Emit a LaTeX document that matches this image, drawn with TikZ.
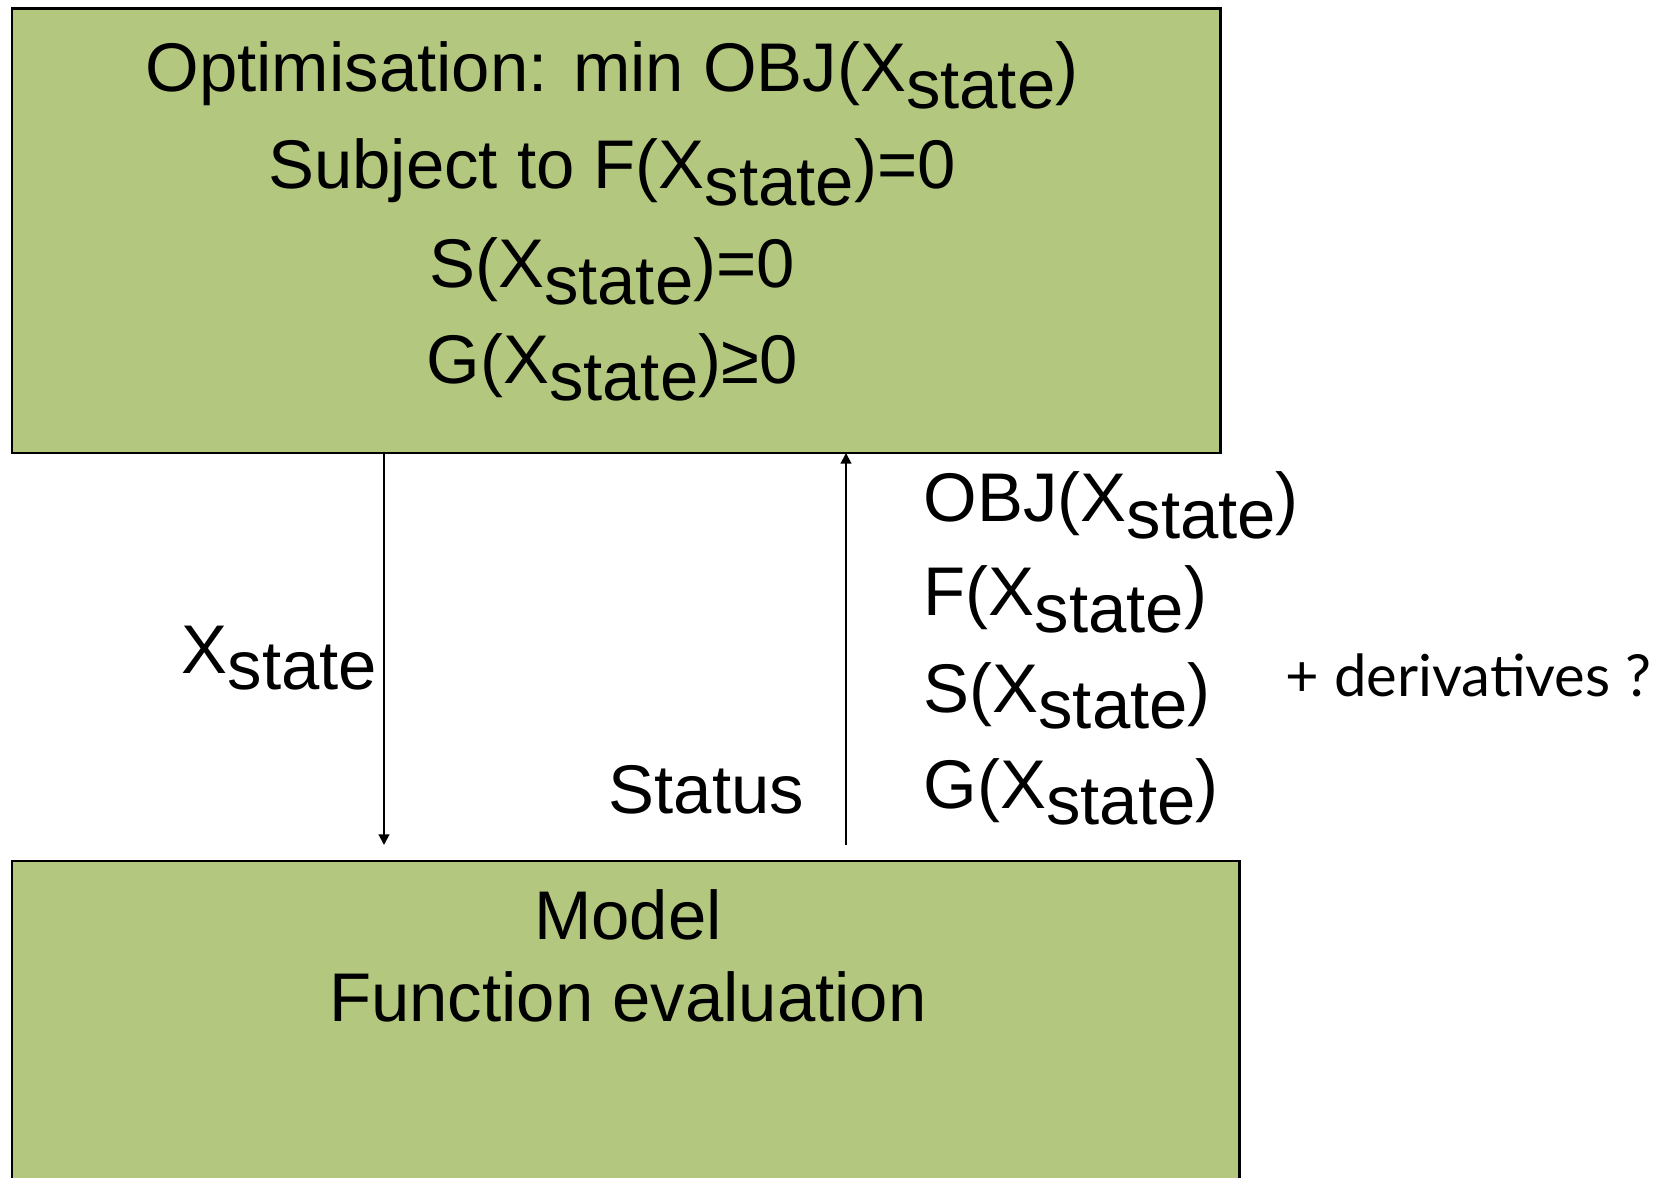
\documentclass[tikz,border=0pt]{standalone}
\usepackage{fontspec}
\setmainfont{Liberation Sans}
\newfontfamily\gillfont{Lato}
\usetikzlibrary{arrows.meta}

\definecolor{boxgreen}{RGB}{179,200,126}
\newcommand{\Xst}{X\raisebox{-4.6pt}{state}}

\begin{document}
\begin{tikzpicture}[
  box/.style={draw, line width=0.85pt, fill=boxgreen, inner sep=0pt, outer sep=0pt},
  txt/.style={font=\fontsize{19.6}{23}\selectfont, inner sep=0pt, anchor=base},
  flow/.style={line width=0.57pt, -{Triangle[length=3pt,width=3pt]}}
]
\useasboundingbox (0,0) rectangle (16.71,11.77);

% Boxes
\node[box, minimum width=12.08cm, minimum height=4.445cm] (opt) at (6.16,9.4625) {};
\node[box, minimum width=12.27cm, minimum height=3.56cm] (model) at (6.255,1.38) {};

% Optimisation problem
\node[txt] (objline) at (6.12,10.85) {Optimisation: min OBJ(\Xst)};
\node[txt] (fline) at (6.12,9.88) {Subject to F(\Xst)=0};
\node[txt] (sline) at (6.12,8.89) {S(\Xst)=0};
\node[txt] (gline) at (6.12,7.93) {G(\Xst)≥0};

% Model
\node[txt] (mdl) at (6.28,2.38) {Model};
\node[txt] (feval) at (6.28,1.56) {Function evaluation};

% Arrows
\coordinate (xdown) at (3.84,3.32);
\coordinate (xup) at (8.46,3.32);
\draw[flow] (xdown |- opt.south) -- (xdown);
\draw[flow] (xup) -- (xup |- opt.south);

% Labels
\node[txt, anchor=base west] (xlab) at (1.81,5.04) {\Xst};
\node[txt, anchor=base west] (status) at (6.08,3.64) {Status};
\node[txt, anchor=base west] (robj) at (9.23,6.55) {OBJ(\Xst)};
\node[txt, anchor=base west] (rf) at (9.23,5.61) {F(\Xst)};
\node[txt, anchor=base west] (rs) at (9.23,4.65) {S(\Xst)};
\node[txt, anchor=base west] (rg) at (9.23,3.69) {G(\Xst)};
\node[anchor=base west, inner sep=0pt, font=\gillfont\fontsize{16.5}{20}\selectfont] (deriv) at (12.85,4.80) {+ derivatives ?};

\end{tikzpicture}
\end{document}
